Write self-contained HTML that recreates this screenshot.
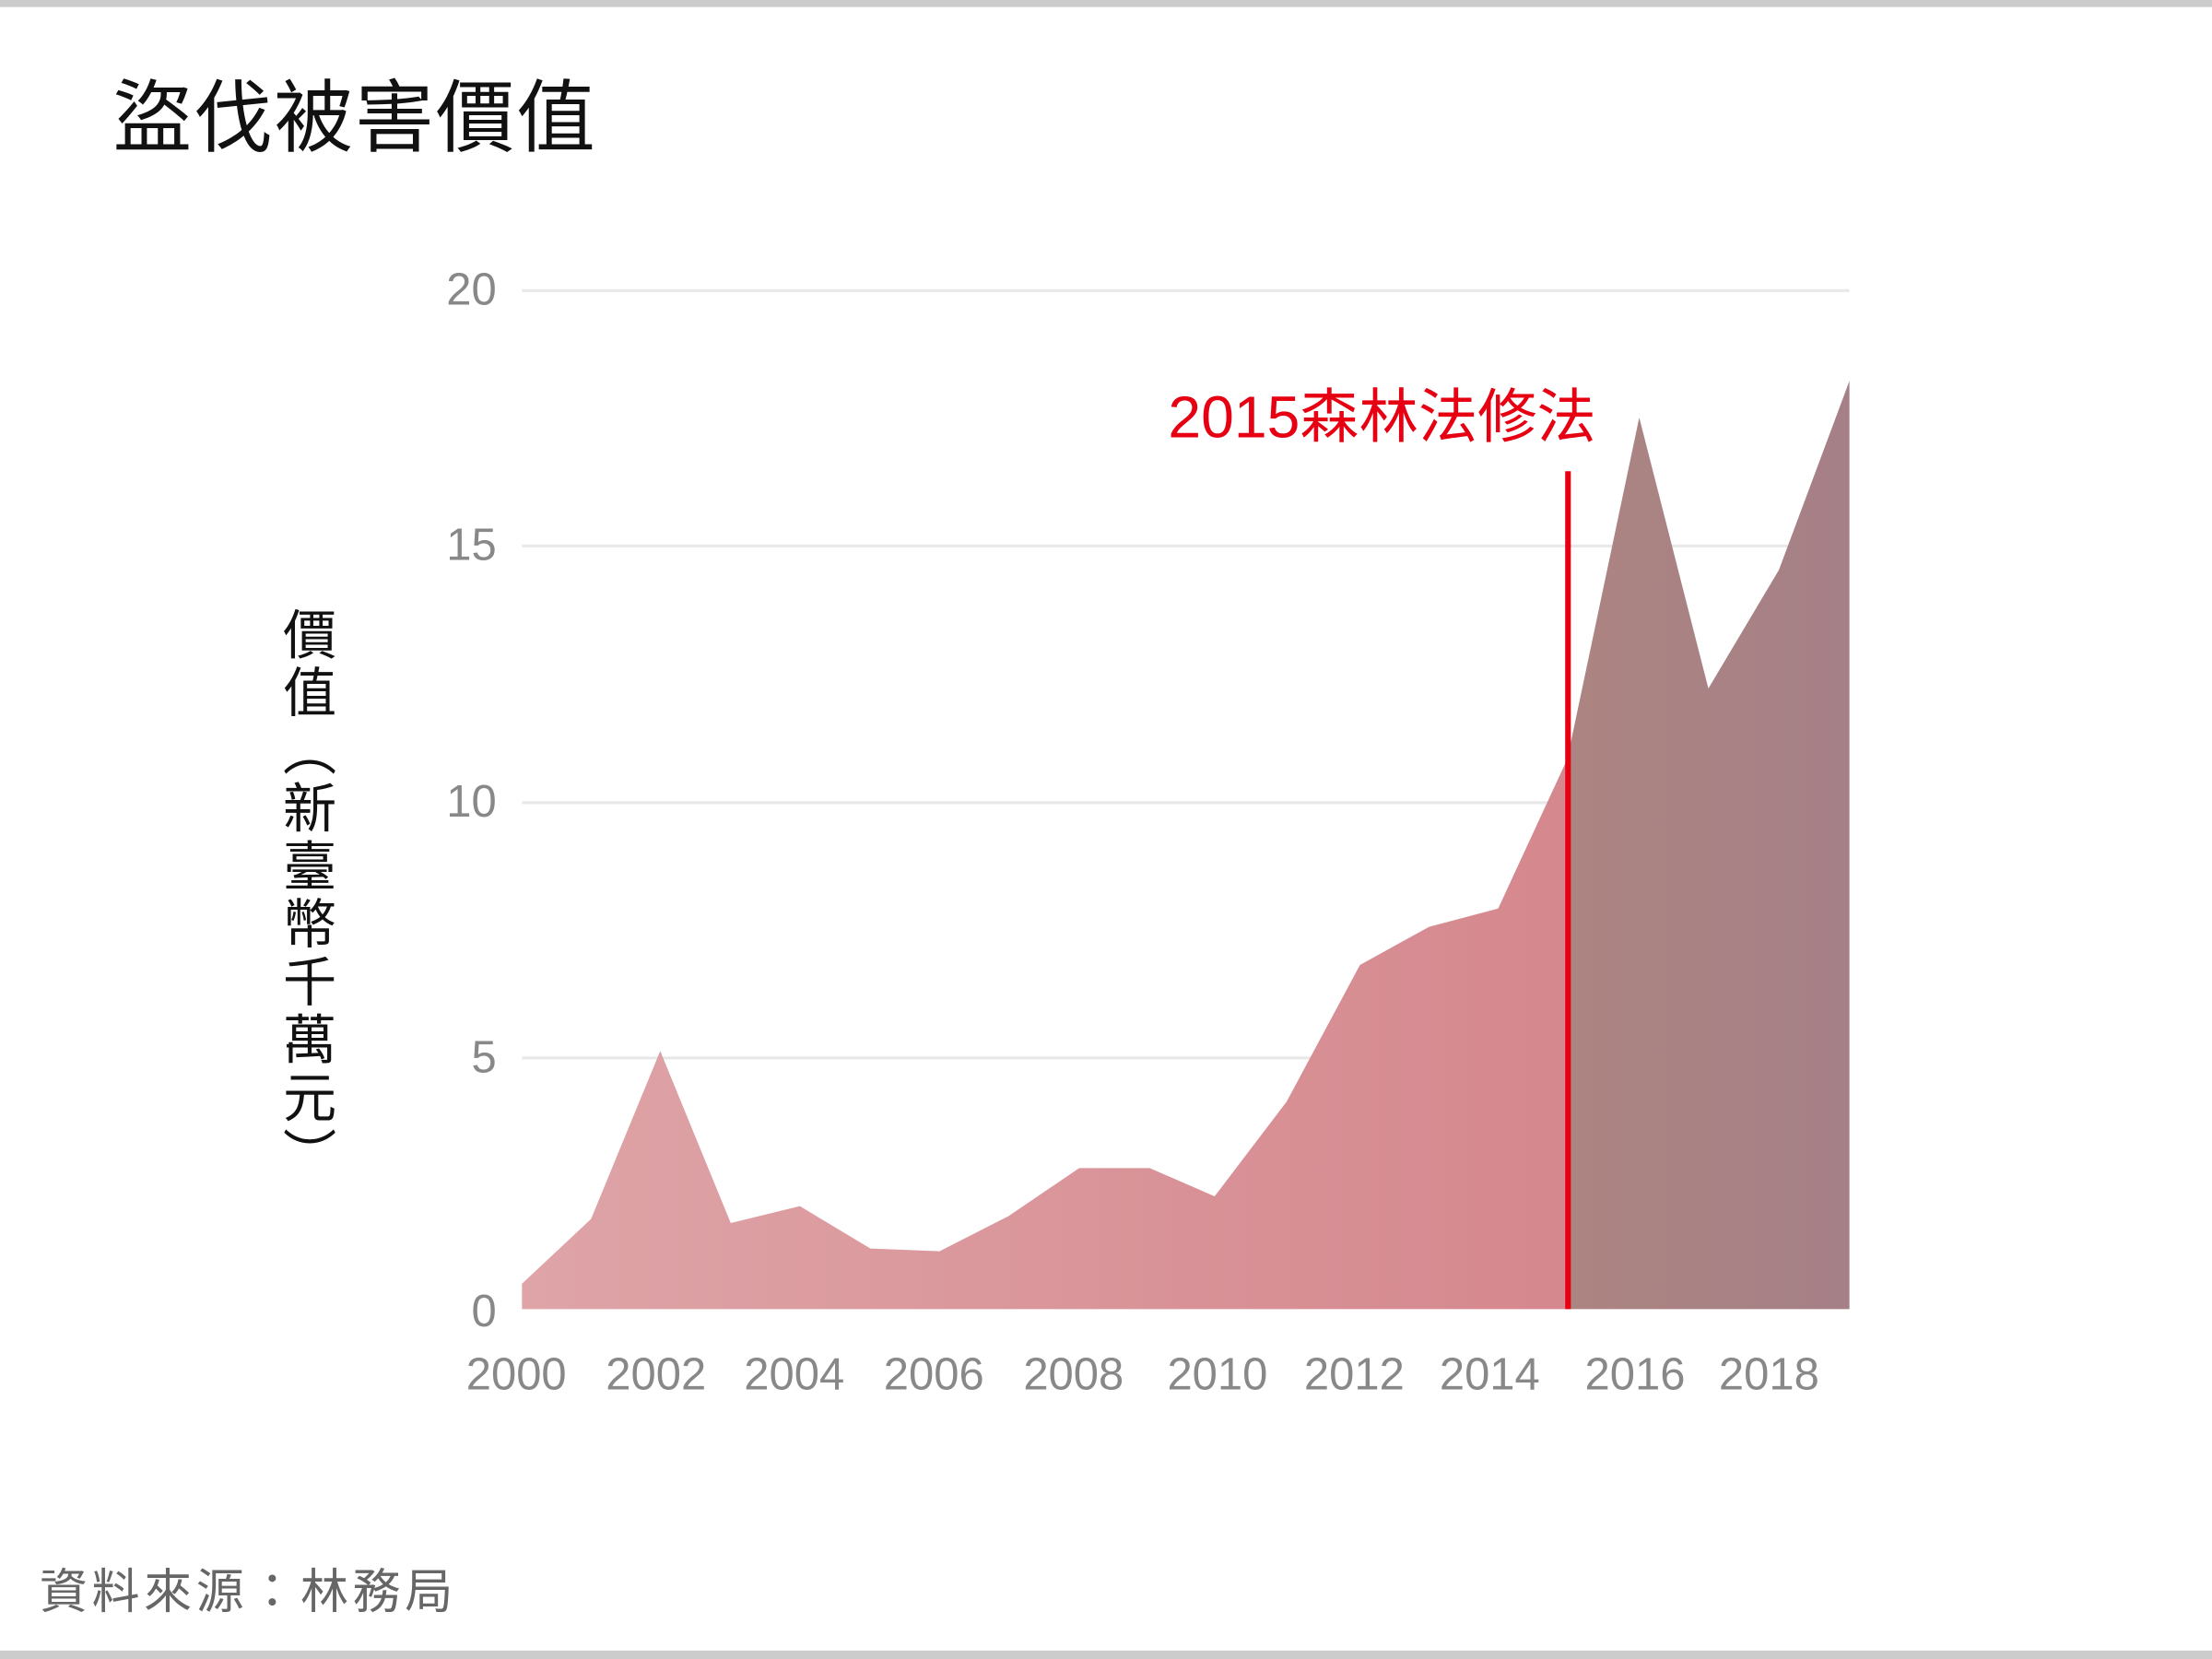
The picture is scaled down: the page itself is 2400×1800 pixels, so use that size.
<!DOCTYPE html>
<html><head><meta charset="utf-8"><style>
html,body{margin:0;padding:0;background:#fff;}
svg{display:block;}
text{font-family:"Liberation Sans","Noto Sans CJK TC",sans-serif;}
</style></head><body>
<svg width="2400" height="1800" viewBox="0 0 1568 1176" xmlns="http://www.w3.org/2000/svg">
<defs>
<linearGradient id="g1" x1="370" y1="0" x2="1111" y2="0" gradientUnits="userSpaceOnUse">
<stop offset="0" stop-color="#dea4a7"/><stop offset="1" stop-color="#d5888e"/>
</linearGradient>
<linearGradient id="g2" x1="1111" y1="0" x2="1311" y2="0" gradientUnits="userSpaceOnUse">
<stop offset="0" stop-color="#ac8482"/><stop offset="1" stop-color="#a58086"/>
</linearGradient>
</defs>
<rect x="0" y="0" width="1568" height="5" fill="#cccccc"/>
<rect x="0" y="1170" width="1568" height="6" fill="#cccccc"/>
<text x="80" y="103" font-size="56" fill="#111" letter-spacing="1.2">盜伐被害價值</text>
<g stroke="#e8e8e8" stroke-width="2">
<line x1="370" y1="206" x2="1311" y2="206"/>
<line x1="370" y1="387" x2="1311" y2="387"/>
<line x1="370" y1="569" x2="1311" y2="569"/>
<line x1="370" y1="750" x2="1311" y2="750"/>
</g>
<g font-size="32" fill="#888" text-anchor="end">
<text x="352" y="216">20</text><text x="352" y="397">15</text><text x="352" y="579">10</text><text x="352" y="760">5</text><text x="352" y="940">0</text>
</g>
<polygon fill="url(#g1)" points="370,928 370,910 419,864 468,745 518,867 567,855 617,885 666,887 715,862 765,828 815,828 861,848 912,781 964,684 1013,657 1062,644 1111,538 1111,928"/>
<polygon fill="url(#g2)" points="1111,928 1111,538 1162,296 1211,488 1261,404 1311,270 1311,928"/>
<line x1="1111.5" y1="334" x2="1111.5" y2="928" stroke="#e60012" stroke-width="4"/>
<text x="828" y="310" font-size="42" fill="#e60012">2015森林法修法</text>
<g font-size="32" fill="#888" text-anchor="middle">
<text x="366" y="985">2000</text><text x="465" y="985">2002</text><text x="563" y="985">2004</text><text x="662" y="985">2006</text><text x="761" y="985">2008</text><text x="863" y="985">2010</text><text x="960" y="985">2012</text><text x="1056" y="985">2014</text><text x="1159" y="985">2016</text><text x="1254" y="985">2018</text>
</g>
<text x="216" y="430" font-size="38" fill="#111" style="writing-mode:vertical-rl;letter-spacing:3px">價值（新臺幣千萬元）</text>
<text x="28" y="1140" font-size="34" fill="#666" letter-spacing="3">資料來源：林務局</text>
</svg>
</body></html>
